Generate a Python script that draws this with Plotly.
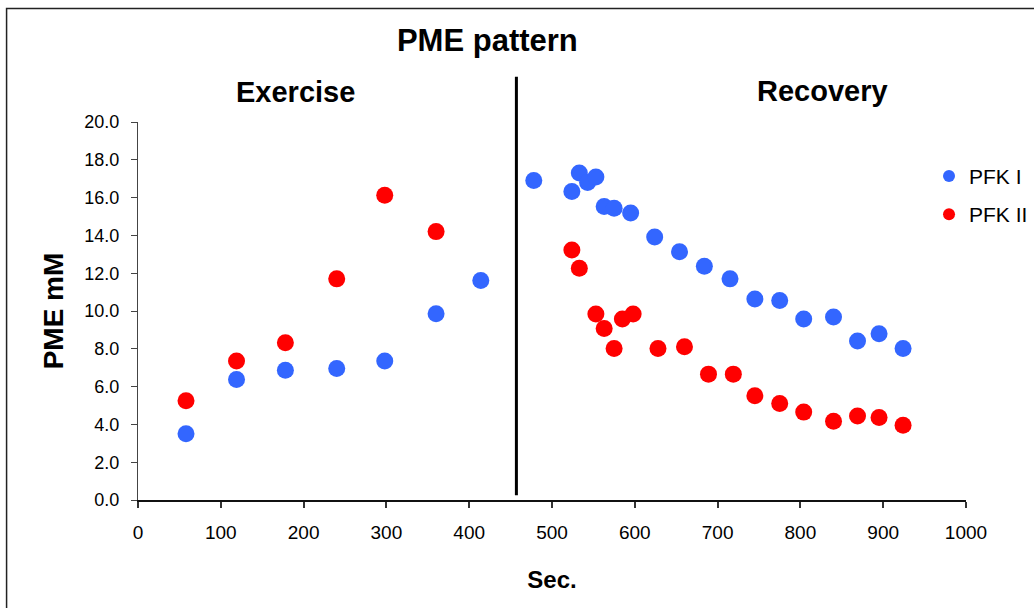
import plotly.graph_objects as go

# ---- data ----
pfk1_sec = [58, 119, 178, 240, 298, 360, 414,
            478, 524, 533, 543, 553, 563, 575, 595, 624, 654, 684, 715, 745, 775, 804, 840, 869, 895, 924]
pfk1_pme = [3.50, 6.38, 6.87, 6.96, 7.35, 9.86, 11.61,
            16.90, 16.32, 17.30, 16.80, 17.09, 15.53, 15.44, 15.18, 13.91, 13.14, 12.37, 11.70, 10.64, 10.55,
            9.58, 9.68, 8.41, 8.80, 8.02]

pfk2_sec = [58, 119, 178, 240, 298, 360,
            524, 533, 553, 563, 575, 585, 598, 628, 660, 689, 719, 745, 775, 804, 840, 869, 895, 924]
pfk2_pme = [5.25, 7.35, 8.32, 11.70, 16.13, 14.20,
            13.23, 12.26, 9.84, 9.08, 8.02, 9.58, 9.84, 8.02, 8.11, 6.66, 6.66, 5.51, 5.11, 4.65, 4.17,
            4.45, 4.37, 3.96]

series_names = ["PFK I", "PFK II"]
x_ticks = [0, 100, 200, 300, 400, 500, 600, 700, 800, 900, 1000]
y_ticks = [0, 2, 4, 6, 8, 10, 12, 14, 16, 18, 20]
divider_sec = 457
phase_labels = ["Exercise", "Recovery"]

FONT = "Liberation Sans, Arial, sans-serif"
BLUE = "#3366FF"
RED = "#FF0000"

fig = go.Figure()
fig.add_trace(go.Scatter(
    x=pfk2_sec, y=pfk2_pme, mode="markers", name=series_names[1],
    legendgroup="b", legendrank=2,
    marker=dict(color=RED, size=17, line=dict(width=0)),
))
fig.add_trace(go.Scatter(
    x=pfk1_sec, y=pfk1_pme, mode="markers", name=series_names[0],
    legendgroup="a", legendrank=1,
    marker=dict(color=BLUE, size=17, line=dict(width=0)),
))

L, R, T, B = 137.5, 966.0, 122.3, 499.7
W, H = 1034, 608
pw, ph = R - L, B - T


def px_x(p):
    return (p - L) / pw


def px_y(p):
    return (B - p) / ph


fig.update_layout(
    width=W, height=H, autosize=False,
    margin=dict(l=L, r=W - R, t=T, b=H - B, pad=0, autoexpand=False),
    paper_bgcolor="white", plot_bgcolor="white",
    font=dict(family=FONT, color="black"),
    showlegend=True,
    legend=dict(
        x=px_x(929), y=px_y(156), xanchor="left", yanchor="top",
        font=dict(size=21, family=FONT, color="black"),
        bgcolor="rgba(0,0,0,0)", itemsizing="constant",
        traceorder="grouped", tracegroupgap=8,
    ),
    title=dict(
        text="<b>PME pattern</b>", x=px_x(528), xanchor="center",
        y=1 - 40 / H, yanchor="middle",
        font=dict(size=31, family=FONT, color="black"),
    ),
    xaxis=dict(
        range=[0, 1000], tickvals=x_ticks, ticktext=[str(v) for v in x_ticks],
        showgrid=False, zeroline=False,
        showline=True, linecolor="#111", linewidth=1.5,
        ticks="outside", ticklen=6, tickcolor="#333", tickwidth=1.5,
        tickfont=dict(size=19, family=FONT, color="black"),
        ticklabelstandoff=8,
        title=dict(text="<b>Sec.</b>", font=dict(size=24, family=FONT, color="black"), standoff=30),
    ),
    yaxis=dict(
        range=[0, 20], tickvals=y_ticks, tickformat=".1f",
        showgrid=False, zeroline=False,
        showline=True, linecolor="#444", linewidth=1.2,
        ticks="outside", ticklen=6, tickcolor="#444", tickwidth=1.2,
        tickfont=dict(size=18, family=FONT, color="black"),
        ticklabelstandoff=8,
        title=dict(text="<b>PME mM</b>", font=dict(size=28, family=FONT, color="black"), standoff=12),
    ),
)

# divider between exercise and recovery
fig.add_shape(type="line", xref="x", yref="paper",
              x0=divider_sec, x1=divider_sec, y0=px_y(495), y1=px_y(77),
              line=dict(color="black", width=3))

# outer frame of the chart
fig.add_shape(type="rect", xref="paper", yref="paper",
              x0=px_x(6), x1=px_x(1045), y0=px_y(620), y1=px_y(9),
              line=dict(color="#222", width=1.5), fillcolor="rgba(0,0,0,0)")

fig.add_annotation(text="<b>%s</b>" % phase_labels[0], xref="paper", yref="paper",
                   x=px_x(295), y=px_y(92), xanchor="center", yanchor="middle",
                   showarrow=False, font=dict(size=29, family=FONT, color="black"))
fig.add_annotation(text="<b>%s</b>" % phase_labels[1], xref="paper", yref="paper",
                   x=px_x(822), y=px_y(91), xanchor="center", yanchor="middle",
                   showarrow=False, font=dict(size=29, family=FONT, color="black"))

fig.write_html("out.html",
               config={"displayModeBar": False},
               post_script="document.body.style.margin='0';document.body.style.overflow='hidden';")
